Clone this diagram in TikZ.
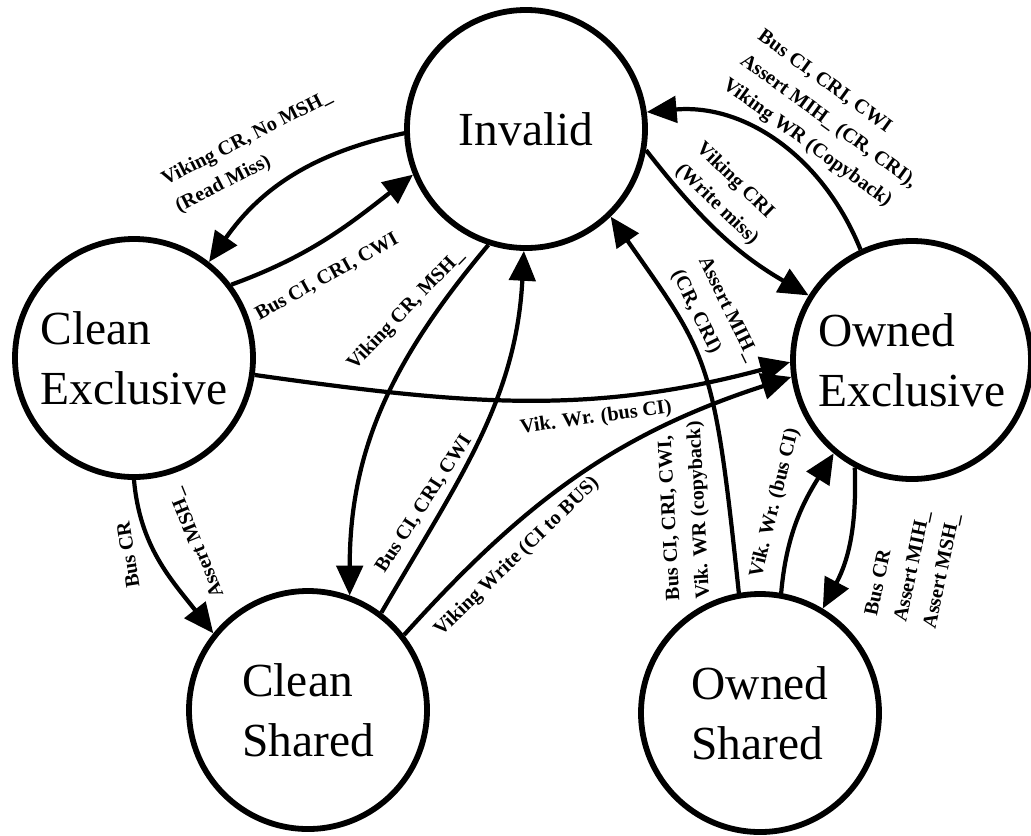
\documentclass[tikz,border=0pt]{standalone}
\usepackage{fontspec}
\setmainfont{Liberation Serif}
\usetikzlibrary{arrows.meta}
\begin{document}
\begin{tikzpicture}[x=0.2mm,y=0.2mm,
  state/.style={draw=black,line width=3.3pt,circle,minimum size=4.76cm,inner sep=0pt,align=left,font=\fontsize{27}{34}\selectfont},
  trans/.style={line width=2.4pt,-{Triangle[length=17pt,width=15pt]}},
  lbl/.style={font=\fontsize{11.5}{17}\selectfont\bfseries,align=left,inner sep=0pt}]
\useasboundingbox (0,0) rectangle (1031,-835);
\fill[white] (0,0) rectangle (1031,-835);
\node[state] (inv) at (526,-129) {Invalid};
\node[state] (ce) at (134,-358) {Clean\\Exclusive};
\node[state] (oe) at (912,-360) {Owned\\Exclusive};
\node[state] (cs) at (308,-710) {Clean\\Shared};
\node[state] (os) at (760,-713) {Owned\\Shared};
\draw[trans] (inv.182) to[out=192,in=55] (ce.52);
\draw[trans] (ce.37) to[out=20,in=218] (inv.202);
\draw[trans] (inv.252) to[out=230,in=90] (cs.70);
\draw[trans] (cs.53) to[out=60,in=267] (inv.269);
\draw[trans] (ce.352) to[out=-8,in=195] (oe.181);
\draw[trans] (cs.38) to[out=48,in=198] (oe.188);
\draw[trans] (inv.350) to[out=-52,in=150] (oe.148);
\draw[trans] (oe.115) to[out=112,in=5] (inv.8);
\draw[trans] (os.100) .. controls +(96:238) and +(305:171) .. (inv.314);
\draw[trans] (os.80) to[out=85,in=238] (oe.230);
\draw[trans] (oe.242) to[out=272,in=62] (os.59);
\draw[trans] (ce.270) to[out=275,in=128] (cs.141);
\node[lbl,rotate=27] (lreadmiss) at (254,-152) {Viking CR, No MSH\_\\(Read Miss)};
\node[lbl,rotate=29] (lbusce) at (327,-277) {Bus CI, CRI, CWI};
\node[lbl,rotate=46] (lvikcr) at (406,-310) {Viking CR, MSH\_};
\node[lbl,rotate=57] (lbuscs) at (424,-504) {Bus CI, CRI, CWI};
\node[lbl,rotate=8] (lvikwr) at (596,-418) {Vik. Wr. (bus CI)};
\node[lbl,rotate=44] (lvikwrite) at (517,-557) {Viking Write (CI to BUS)};
\node[lbl,rotate=-44] (lwritemiss) at (727,-194) {Viking CRI\\(Write miss)};
\node[lbl,rotate=-36] (lcopyback) at (828,-122) {Bus CI, CRI, CWI\\Assert MIH\_ (CR, CRI),\\Viking WR (Copyback)};
\node[lbl,rotate=-64] (lassertmih) at (714,-316) {Assert MIH\_\\(CR, CRI)};
\node[lbl,rotate=93] (lbusos) at (685,-511) {Bus CI, CRI, CWI,\\Vik. WR (copyback)};
\node[lbl,rotate=76] (lvikwros) at (775,-503) {Vik. Wr. (bus CI)};
\node[lbl,rotate=78] (lbuscr) at (913,-565) {Bus CR\\Assert MIH\_\\Assert MSH\_};
\node[lbl,rotate=99] (lbuscrce) at (128,-555) {Bus CR};
\node[lbl,rotate=112] (lassertmsh) at (197,-543) {Assert MSH\_};
\end{tikzpicture}
\end{document}
